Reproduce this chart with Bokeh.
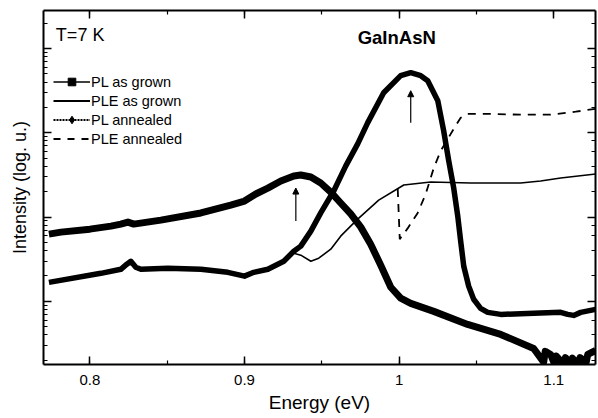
from bokeh.plotting import figure
from bokeh.models import (Label, Legend, LegendItem, Arrow, NormalHead, LinearAxis, LogAxis,
                          SingleIntervalTicker, LogTicker, CustomJSTickFormatter, Title)
from bokeh.embed import file_html
from bokeh.resources import INLINE

# ---------------- data ----------------
pl_grown_E = [0.7735, 0.7813, 0.8000, 0.8136, 0.8200, 0.8246, 0.8284, 0.8459, 0.8718, 0.8911,
              0.9000, 0.9073, 0.9151, 0.9235, 0.9319, 0.9364, 0.9429, 0.9493, 0.9558, 0.9622,
              0.9687, 0.9752, 0.9816, 0.9881, 0.9946, 1.0010, 1.0075, 1.0224, 1.0443, 1.0657,
              1.0870, 1.0935, 1.0945, 1.0980, 1.1005, 1.1015, 1.1065, 1.1075, 1.1110, 1.1120,
              1.1160, 1.1170, 1.1210, 1.1220, 1.1271]
pl_grown_I = [6.28, 6.63, 7.19, 7.81, 8.25, 8.72, 8.25, 9.21, 11.2, 13.9,
              15.5, 18.8, 22.1, 26.8, 30.8, 31.6, 29.9, 25.4, 19.8, 14.7,
              10.9, 7.60, 4.77, 2.68, 1.47, 1.09, 0.947, 0.760, 0.532, 0.405,
              0.276, 0.19, 0.255, 0.234, 0.18, 0.225, 0.178, 0.215, 0.18, 0.212,
              0.178, 0.215, 0.19, 0.235, 0.261]

ple_grown_E = [0.9319, 0.9364, 0.9429, 0.9480, 0.9558, 0.9622, 0.9732, 0.9868, 1.0030, 1.0204,
               1.0463, 1.0786, 1.0915, 1.1045, 1.1271]
ple_grown_I = [3.73, 3.53, 2.99, 3.25, 4.16, 5.94, 9.46, 15.9, 24.0, 26.1,
               25.4, 25.4, 26.8, 29.1, 32.5]

pl_ann_E = [0.7735, 0.8071, 0.8200, 0.8239, 0.8265, 0.8297, 0.8330, 0.8504, 0.8718, 0.8892,
            0.9000, 0.9060, 0.9151, 0.9254, 0.9319, 0.9364, 0.9429, 0.9493, 0.9577, 0.9655,
            0.9732, 0.9797, 0.9900, 1.0010, 1.0075, 1.0140, 1.0185, 1.0250, 1.0288, 1.0321,
            1.0353, 1.0379, 1.0398, 1.0418, 1.0450, 1.0482, 1.0527, 1.0573, 1.0657, 1.0870,
            1.1045, 1.1090, 1.1129, 1.1174, 1.1271]
pl_ann_I = [1.68, 2.15, 2.40, 2.76, 2.99, 2.54, 2.40, 2.47, 2.40, 2.21,
            1.99, 2.21, 2.40, 2.99, 3.94, 4.52, 6.81, 11.2, 20.4, 40.5,
            74.0, 132, 299, 477, 518, 477, 416, 240, 106, 46.4,
            22.1, 10.3, 5.18, 2.61, 1.51, 1.06, 0.826, 0.740, 0.700, 0.720,
            0.740, 0.700, 0.681, 0.740, 0.803]

ple_ann_E = [0.9991, 1.0004, 1.0056, 1.0120, 1.0172, 1.0224, 1.0269, 1.0346, 1.0398, 1.0443,
             1.0592, 1.0786, 1.0980, 1.1142, 1.1271]
ple_ann_I = [21.5, 5.47, 7.39, 11.2, 18.8, 38.3, 61.0, 106, 151, 168,
             168, 164, 164, 178, 193]

arrow_E = [0.9332, 1.0075]
arrow_I_start = [8.96, 132]
arrow_I_end = [22.1, 316]

x_ticks_interval = 0.1
x_label = "Energy (eV)"
y_label = "Intensity (log. u.)"
legend_labels = ["PL as grown", "PLE as grown", "PL annealed", "PLE annealed"]

FONT = "Liberation Sans"

p = figure(width=598, height=418, x_range=(0.770, 1.127), y_range=(0.178, 2830),
           y_axis_type="log", output_backend="svg", toolbar_location=None,
           min_border_left=43, min_border_right=3, min_border_top=10, min_border_bottom=54)
p.grid.visible = False
p.outline_line_color = None
p.background_fill_color = "white"
p.border_fill_color = "white"

empty_fmt = CustomJSTickFormatter(code="return ''")


def style_axis(ax, labels=True):
    ax.axis_line_width = 2
    ax.axis_line_color = "black"
    ax.major_tick_in = 8
    ax.major_tick_out = 0
    ax.minor_tick_in = 4
    ax.minor_tick_out = 0
    ax.major_tick_line_width = 1.5
    ax.minor_tick_line_width = 1.2
    ax.major_tick_line_color = "black"
    ax.minor_tick_line_color = "black"
    if labels:
        ax.major_label_text_font = FONT
        ax.major_label_text_font_size = "15px"
        ax.major_label_text_color = "black"
        ax.major_label_standoff = 10
    else:
        ax.formatter = empty_fmt
        ax.major_label_text_font_size = "0px"
        ax.major_label_standoff = 0


xt = SingleIntervalTicker(interval=x_ticks_interval, num_minor_ticks=2)
p.xaxis.ticker = xt
style_axis(p.xaxis[0])
p.xaxis.axis_label = x_label
p.xaxis.axis_label_text_font = FONT
p.xaxis.axis_label_text_font_size = "19px"
p.xaxis.axis_label_text_font_style = "normal"
p.xaxis.axis_label_text_color = "black"
p.xaxis.axis_label_standoff = 4

style_axis(p.yaxis[0], labels=False)
# blank spacer label so the real y title sits further left, as in the reference
p.yaxis.axis_label = " "
p.yaxis.axis_label_text_font_size = "1px"
p.yaxis.axis_label_standoff = 10

top = LinearAxis(ticker=SingleIntervalTicker(interval=x_ticks_interval, num_minor_ticks=2))
style_axis(top, labels=False)
p.add_layout(top, "above")
right = LogAxis(ticker=LogTicker())
style_axis(right, labels=False)
p.add_layout(right, "right")

# y label as a left-side title (shifted up like the reference)
p.add_layout(Title(text=y_label, align="center", offset=19, text_font=FONT,
                   text_font_size="18px", text_font_style="normal", text_color="black",
                   standoff=0), "left")

# curves
r_pl_g = p.line(pl_grown_E, pl_grown_I, line_width=7, line_color="black", line_join="round")
r_ple_g = p.line(ple_grown_E, ple_grown_I, line_width=1.6, line_color="black")
r_pl_a = p.line(pl_ann_E, pl_ann_I, line_width=5.5, line_color="black", line_join="round")
r_ple_a = p.line(ple_ann_E, ple_ann_I, line_width=1.8, line_color="black", line_dash="8 7")

# legend glyph stand-ins
nan = [float("nan")]
lg1 = p.line(nan, nan, line_width=1.5, line_color="black")
lg1m = p.scatter(nan, nan, marker="square", size=4, color="black")
lg2 = p.line(nan, nan, line_width=1.8, line_color="black")
lg3 = p.line(nan, nan, line_width=2.2, line_color="black", line_dash="2 1")
lg3m = p.scatter(nan, nan, marker="diamond", size=5, color="black")
lg4 = p.line(nan, nan, line_width=1.8, line_color="black", line_dash="7 7")

legend = Legend(items=[
    LegendItem(label=legend_labels[0], renderers=[lg1, lg1m]),
    LegendItem(label=legend_labels[1], renderers=[lg2]),
    LegendItem(label=legend_labels[2], renderers=[lg3, lg3m]),
    LegendItem(label=legend_labels[3], renderers=[lg4]),
], location=(10, 216), padding=0, margin=0, spacing=0, glyph_width=37, glyph_height=19,
    label_height=19, label_standoff=1, border_line_color=None, background_fill_alpha=0,
    label_text_font=FONT, label_text_font_size="14.5px", label_text_color="black")
p.add_layout(legend)

# arrows
for xe, ys, ye in zip(arrow_E, arrow_I_start, arrow_I_end):
    p.add_layout(Arrow(x_start=xe, y_start=ys, x_end=xe, y_end=ye, line_width=1.2,
                       line_color="black",
                       end=NormalHead(size=6, fill_color="black", line_color="black")))

# texts
p.add_layout(Label(x=0.778, y=1430, text="T=7 K", text_font=FONT, text_font_size="18px",
                   text_color="black", text_baseline="alphabetic"))
p.add_layout(Label(x=0.9732, y=1353, text="GaInAsN", text_font=FONT, text_font_size="18.5px",
                   text_font_style="bold", text_color="black", text_baseline="alphabetic"))

open("out.html", "w").write(file_html(p, INLINE))
